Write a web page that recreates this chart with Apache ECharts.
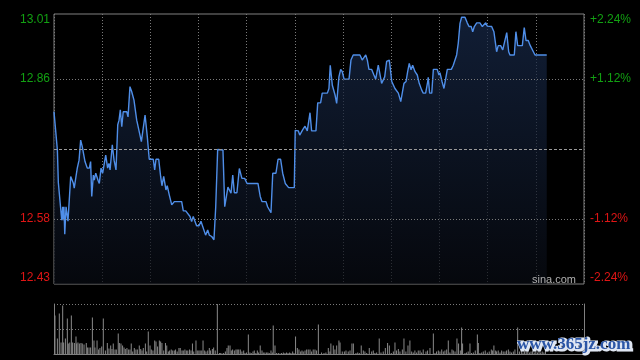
<!DOCTYPE html>
<html>
<head>
<meta charset="utf-8">
<script src="https://cdn.jsdelivr.net/npm/echarts@6/dist/echarts.min.js"></script>
<style>
html,body{margin:0;padding:0;background:#000;}
#chart{width:640px;height:360px;}
</style>
</head>
<body>
<div id="chart"></div>
<script>
// ---- data (minute index from 09:30, HK session = 330 minutes) ----
const sessionMinutes = 330;
const priceMin = 12.43;
const priceMax = 13.01;
const prevClose = 12.72;
const labelLevels = [13.01, 12.865, 12.575, 12.43];
const leftLabels = ['13.01', '12.86', '12.58', '12.43'];
const rightLabels = ['+2.24%', '+1.12%', '-1.12%', '-2.24%'];

const pricePoints = [
[0,12.800],[2.1,12.718],[2.7,12.648],[3.7,12.647],[4.8,12.567],[5.4,12.596],[5.8,12.567],[6.2,12.596],[6.7,12.537],[7.5,12.596],[8.7,12.565],[9.5,12.565],[10.4,12.661],[12.0,12.647],[12.6,12.636],[13.7,12.661],[14.5,12.679],[15.6,12.696],[16.6,12.739],[17.6,12.725],[19.3,12.693],[20.7,12.679],[22.0,12.679],[22.8,12.693],[23.5,12.618],[24.5,12.664],[25.1,12.653],[26.0,12.668],[27.4,12.653],[28.2,12.646],[29.3,12.679],[30.3,12.668],[31.3,12.668],[32.2,12.707],[33.4,12.679],[34.2,12.689],[34.9,12.675],[36.3,12.729],[37.4,12.696],[38.6,12.675],[39.7,12.772],[40.5,12.782],[41.3,12.804],[42.2,12.768],[43.1,12.800],[45.3,12.800],[46.1,12.789],[47.3,12.854],[48.4,12.843],[49.8,12.825],[51.5,12.782],[52.5,12.779],[54.4,12.736],[56.7,12.793],[58.1,12.746],[59.3,12.698],[61.8,12.698],[62.7,12.675],[63.5,12.698],[65.2,12.698],[66.4,12.661],[67.2,12.641],[68.3,12.661],[69.7,12.632],[70.5,12.641],[71.8,12.621],[73.3,12.600],[73.9,12.596],[74.9,12.607],[79.5,12.607],[80.5,12.587],[82.0,12.587],[83.2,12.583],[84.7,12.575],[85.7,12.564],[86.7,12.575],[87.8,12.564],[88.8,12.555],[90.3,12.555],[91.5,12.565],[92.6,12.562],[94.4,12.535],[95.7,12.546],[96.7,12.535],[98.2,12.532],[99.6,12.525],[100.7,12.596],[101.9,12.719],[105.2,12.718],[106.3,12.596],[107.3,12.596],[108.3,12.638],[109.4,12.638],[110.2,12.625],[111.3,12.664],[112.3,12.626],[113.9,12.626],[115.4,12.678],[116.0,12.675],[117.0,12.657],[118.7,12.657],[120.2,12.646],[127.0,12.646],[128.4,12.618],[129.5,12.607],[132.0,12.607],[133.0,12.596],[134.0,12.596],[135.1,12.583],[136.2,12.668],[138.2,12.668],[139.5,12.698],[141.1,12.698],[142.4,12.668],[144.0,12.646],[146.1,12.637],[149.6,12.637],[150.2,12.760],[152.1,12.759],[153.0,12.750],[154.8,12.761],[156.3,12.769],[157.7,12.759],[159.4,12.798],[160.4,12.759],[163.1,12.759],[164.2,12.819],[166.0,12.819],[167.0,12.840],[170.2,12.840],[171.2,12.850],[172.0,12.900],[173.3,12.857],[175.0,12.836],[176.0,12.818],[177.4,12.875],[178.5,12.891],[179.5,12.886],[180.6,12.870],[183.7,12.870],[184.9,12.911],[186.3,12.922],[190.5,12.922],[191.9,12.911],[193.0,12.911],[194.1,12.922],[195.1,12.911],[196.1,12.891],[197.8,12.891],[199.2,12.879],[200.3,12.870],[201.1,12.870],[201.9,12.900],[203.0,12.900],[204.0,12.861],[204.8,12.861],[205.9,12.875],[207.1,12.908],[208.8,12.911],[210.3,12.865],[211.3,12.861],[212.3,12.850],[214.4,12.840],[215.9,12.822],[217.1,12.822],[217.9,12.861],[219.2,12.865],[220.2,12.886],[221.2,12.904],[222.3,12.890],[223.3,12.900],[224.8,12.886],[226.2,12.879],[227.4,12.861],[228.9,12.847],[229.9,12.840],[231.4,12.840],[232.7,12.865],[233.0,12.874],[233.9,12.840],[235.2,12.840],[236.2,12.891],[238.6,12.891],[239.7,12.879],[240.3,12.884],[241.6,12.865],[242.8,12.850],[243.9,12.850],[244.9,12.891],[247.4,12.891],[248.6,12.900],[249.7,12.904],[250.7,12.922],[251.7,12.947],[252.8,12.990],[253.8,13.003],[255.9,13.003],[257.3,12.991],[258.4,12.983],[259.8,12.983],[260.7,12.972],[261.7,12.983],[263.2,12.991],[265.2,12.991],[266.7,12.983],[267.7,12.983],[268.8,12.991],[269.8,12.984],[272.5,12.983],[273.9,12.972],[274.6,12.972],[275.6,12.929],[276.6,12.942],[278.1,12.942],[279.4,12.933],[280.6,12.933],[281.9,12.970],[283.1,12.929],[283.9,12.922],[286.6,12.922],[287.6,12.972],[288.7,12.942],[291.6,12.942],[292.8,12.981],[293.9,12.953],[295.3,12.953],[296.4,12.943],[297.4,12.940],[299.5,12.922],[306.8,12.922]
];

const volumeMax = 100;
const volumePoints = [
[0.6,77],[2.1,31],[3.3,81],[4.4,23],[5.4,97],[6.0,23],[7.1,31],[8.3,71],[8.9,21],[9.8,23],[10.8,77],[11.6,23],[12.7,22],[13.7,35],[14.1,21],[14.9,23],[15.8,21],[16.8,22],[17.6,21],[18.7,19],[20.1,22],[20.8,13],[21.8,13],[22.8,13],[23.9,73],[24.9,27],[25.5,13],[26.8,27],[27.8,9],[28.6,12],[29.7,15],[30.7,71],[32.0,7],[33.2,22],[34.2,11],[35.3,17],[36.1,10],[36.9,21],[38.0,9],[38.8,9],[40.0,41],[40.7,22],[41.7,21],[42.7,17],[43.6,13],[44.4,10],[45.4,12],[46.3,9],[47.3,9],[48.1,21],[49.0,5],[50.0,12],[51.0,9],[51.9,9],[53.1,17],[54.0,10],[54.8,7],[55.6,12],[56.9,21],[57.7,5],[58.7,45],[59.8,17],[60.6,9],[61.6,7],[62.7,27],[63.5,25],[64.5,15],[65.6,27],[66.4,25],[67.2,22],[68.3,7],[69.4,22],[70.2,17],[71.2,5],[72.0,7],[73.0,9],[73.9,7],[74.9,7],[75.7,9],[76.7,5],[77.8,12],[78.6,12],[79.7,7],[80.5,7],[81.5,9],[82.4,7],[83.3,7],[84.4,9],[85.3,7],[86.2,21],[87.0,5],[88.4,27],[89.2,7],[90.2,7],[91.0,7],[92.0,7],[92.8,27],[93.8,7],[94.6,5],[95.7,7],[96.7,12],[97.5,7],[98.6,10],[99.4,13],[100.4,7],[101.7,100],[103.0,2],[103.8,2],[104.6,1],[105.6,2],[106.7,5],[107.7,12],[108.5,17],[109.6,17],[110.4,7],[111.2,9],[112.3,7],[113.3,9],[114.1,9],[115.0,9],[116.0,9],[117.0,5],[118.1,7],[118.9,2],[119.9,3],[121.0,39],[122.0,3],[122.8,2],[123.9,5],[124.7,7],[125.7,2],[126.6,7],[127.4,3],[128.4,17],[129.5,7],[130.3,3],[131.3,3],[132.4,3],[133.2,3],[134.0,2],[135.1,7],[135.9,3],[136.5,57],[137.6,17],[138.6,2],[139.7,2],[140.7,1],[141.7,2],[142.8,3],[143.8,2],[144.8,3],[145.7,2],[146.7,3],[147.5,2],[148.6,5],[149.4,2],[150.4,35],[151.5,12],[152.5,9],[153.6,5],[154.4,7],[155.2,5],[156.3,7],[157.3,9],[158.3,9],[159.4,9],[160.4,5],[161.4,9],[162.5,9],[163.5,7],[164.6,59],
[166.6,3],[168.1,2],[169.3,3],[170.8,12],[171.8,5],[172.4,21],[173.9,17],[174.9,9],[176.0,17],[177.4,27],[178.1,23],[179.5,5],[180.8,5],[181.8,7],[183.2,5],[184.3,7],[185.5,21],[186.4,21],[188.0,2],[189.1,3],[190.1,2],[191.3,17],[192.6,7],[193.6,5],[194.7,2],[196.3,12],[197.8,5],[198.8,7],[199.8,2],[200.9,3],[202.5,31],[203.6,3],[205.0,5],[206.3,12],[207.7,22],[208.8,17],[210.0,2],[211.3,5],[212.3,23],[213.3,7],[214.4,10],[215.4,5],[216.9,9],[217.9,31],[219.1,5],[220.4,17],[221.6,27],[222.7,5],[223.7,3],[224.7,7],[225.8,3],[226.8,7],[227.9,7],[228.9,3],[229.9,9],[231.6,5],[232.6,7],[234.1,12],[236.2,41],[237.2,2],[238.2,5],[239.3,7],[240.3,5],[241.4,9],[242.4,5],[243.4,7],[244.5,9],[245.5,27],[246.5,3],[247.8,9],[248.6,7],[249.7,5],[250.9,31],[251.9,21],[253.0,7],[253.8,53],[254.4,21],[255.9,2],[256.9,3],[257.9,5],[259.0,21],[260.0,2],[261.1,3],[262.3,7],[263.6,39],[264.2,22],[265.2,2],[266.3,3],[267.3,5],[268.5,7],[269.8,3],[271.0,5],[272.3,9],[273.1,7],[273.9,17],[275.0,7],[275.6,5],[276.6,7],[277.7,3],[278.7,7],[279.7,5],[280.8,5],[281.8,7],[282.9,9],[283.9,5],[284.9,3],[286.0,5],[287.0,9],[288.7,53],[289.8,5],[291.0,7],[292.0,3],[293.0,9],[294.0,5],[295.0,7],[296.0,3],[297.0,5],[298.0,7],[299.0,3],[300.0,5],[301.0,3],[302.0,7],[303.0,3],[304.0,5],[305.0,3],[306.0,9]
];

// ---- styles ----
const GREEN = '#12a012';
const RED = '#e01515';
const GRID_LINE = '#7a7a7a';
const NONE = 'rgba(0,0,0,0)';
const FONT = 'Liberation Sans, Arial, sans-serif';
const LABEL_SIZE = 12;

const markData = [];
labelLevels.forEach(function (lv, i) {
  const color = lv > prevClose ? GREEN : RED;
  const va = i === 0 ? 'top' : (i === labelLevels.length - 1 ? 'bottom' : 'middle');
  const inner = i !== 0 && i !== labelLevels.length - 1;
  markData.push({
    yAxis: lv,
    lineStyle: { color: inner ? GRID_LINE : NONE, type: [1, 2], width: 1 },
    label: { show: true, position: 'start', formatter: leftLabels[i], color: color,
             fontSize: LABEL_SIZE, fontFamily: FONT, distance: 4, verticalAlign: va }
  });
  markData.push({
    yAxis: lv,
    lineStyle: { color: NONE, width: 1 },
    label: { show: true, position: 'end', formatter: rightLabels[i], color: color,
             fontSize: LABEL_SIZE, fontFamily: FONT, distance: 6, verticalAlign: va, align: 'left' }
  });
});
markData.push({
  yAxis: prevClose,
  lineStyle: { color: '#9a9a9a', type: [3, 2], width: 1 },
  label: { show: false }
});

const chart = echarts.init(document.getElementById('chart'), null, { renderer: 'canvas' });
chart.setOption({
  animation: false,
  backgroundColor: '#000000',
  grid: [
    { left: 54, top: 14, width: 530, height: 270, show: true, borderColor: '#808080', borderWidth: 1, backgroundColor: 'transparent' },
    { left: 54, top: 304, width: 530, height: 50, show: false }
  ],
  xAxis: [
    { gridIndex: 0, type: 'value', min: 0, max: sessionMinutes, interval: 30,
      axisLine: { show: false }, axisTick: { show: false }, axisLabel: { show: false },
      splitLine: { show: true, lineStyle: { color: GRID_LINE, type: [1, 2], width: 1 } } },
    { gridIndex: 1, type: 'value', min: 0, max: sessionMinutes, interval: 30,
      axisLine: { show: true, onZero: false, lineStyle: { color: '#808080', width: 1 } },
      axisTick: { show: false }, axisLabel: { show: false }, splitLine: { show: false } }
  ],
  yAxis: [
    { gridIndex: 0, type: 'value', min: priceMin, max: priceMax, scale: true,
      axisLine: { show: false }, axisTick: { show: false }, axisLabel: { show: false }, splitLine: { show: false } },
    { gridIndex: 1, type: 'value', min: 0, max: volumeMax, interval: 50, position: 'left',
      axisLine: { show: true, lineStyle: { color: '#808080', width: 1 } },
      axisTick: { show: false }, axisLabel: { show: false },
      splitLine: { show: true, lineStyle: { color: GRID_LINE, type: [1, 2], width: 1 } } },
    { gridIndex: 1, type: 'value', min: 0, max: volumeMax, interval: 50, position: 'right',
      axisLine: { show: true, lineStyle: { color: '#808080', width: 1 } },
      axisTick: { show: false }, axisLabel: { show: false }, splitLine: { show: false } }
  ],
  series: [
    {
      type: 'line', xAxisIndex: 0, yAxisIndex: 0, data: pricePoints,
      symbol: 'none', smooth: false,
      lineStyle: { color: '#4f8ee8', width: 1.4 },
      areaStyle: {
        origin: 'start',
        color: { type: 'linear', x: 0, y: 0, x2: 0, y2: 1,
                 colorStops: [ { offset: 0, color: '#182a4b' }, { offset: 1, color: '#080b12' } ] }
      },
      markLine: { silent: true, symbol: ['none', 'none'], animation: false, data: markData }
    },
    {
      type: 'bar', xAxisIndex: 1, yAxisIndex: 1, data: volumePoints,
      barWidth: 1, itemStyle: { color: '#8a8a8a' }, clip: true
    }
  ],
  graphic: [
    { type: 'text', left: 532, top: 274, z: 10,
      style: { text: 'sina.com', fill: '#b0b0b0', font: '11px ' + FONT } },
    { type: 'text', left: 517, top: 336, z: 10,
      style: { text: 'www.365jz.com', fill: '#dfe6f2', stroke: '#dfe6f2', lineWidth: 3,
               font: 'bold 17px Liberation Serif, serif' } },
    { type: 'text', left: 517, top: 336, z: 11,
      style: { text: 'www.365jz.com', fill: '#2a55a6', font: 'bold 17px Liberation Serif, serif' } }
  ]
});
</script>
</body>
</html>
